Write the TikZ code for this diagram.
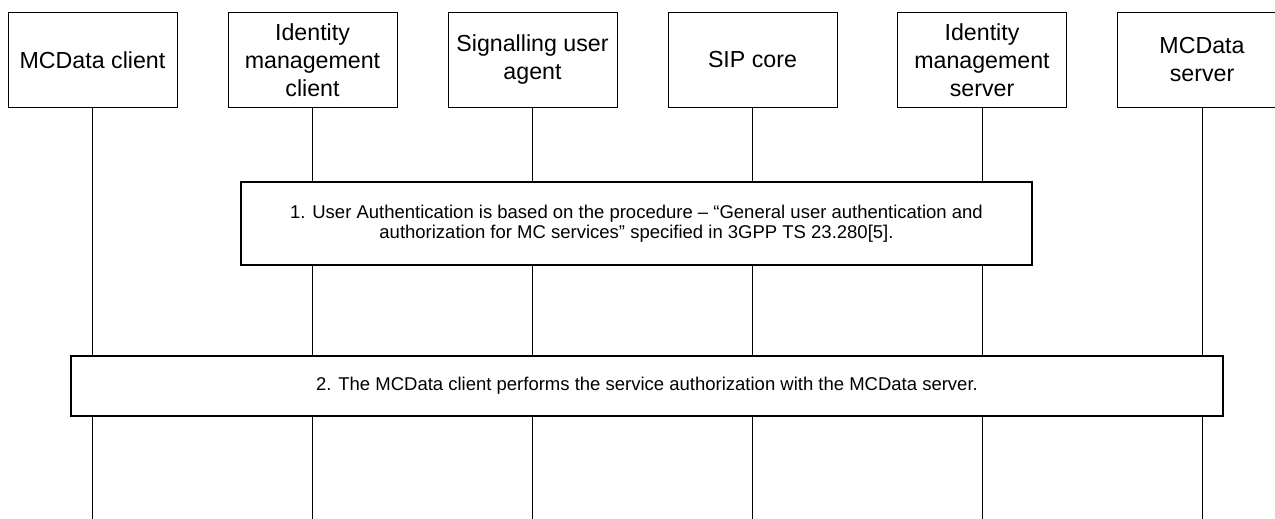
\documentclass[tikz,border=0pt]{standalone}
\usepackage{fontspec}
\setmainfont{Liberation Sans}
\usepackage{tikz}
\usetikzlibrary{positioning}

\tikzset{
  party/.style={draw, line width=0.5pt, inner sep=0pt, minimum width=84.5pt,
    minimum height=47.5pt, align=center, font=\fontsize{11.6}{14}\selectfont},
  stepbox/.style={draw, line width=0.6pt, fill=white, inner sep=0pt,
    align=center, font=\fontsize{9.25}{10}\selectfont},
  life/.style={line width=0.5pt}
}

\begin{document}
\begin{tikzpicture}[x=0.5pt, y=-0.5pt]
  \useasboundingbox (0,0) rectangle (1275,519);
  \node[party] (mcc) at (92.5,59.75) {MCData client};
  \node[party] (idmc) at (312.5,59.75) {Identity\\management\\client};
  \node[party] (sua) at (532.5,59.75) {Signalling user\\agent};
  \node[party] (sip) at (752.5,59.75) {SIP core};
  \node[party] (idms) at (982,59.75) {Identity\\management\\server};
  \node[party] (mcs) at (1202,59.75) {MCData\\server};
  \coordinate (bot) at (0,519);
  \foreach \p in {mcc,idmc,sua,sip,idms,mcs}
    \draw[life] (\p.south) -- (\p.south |- bot);
  \node[stepbox, minimum width=395.5pt, minimum height=41.5pt] (auth) at (636.5,223.5)
    {1. User Authentication is based on the procedure – “General user authentication and\\
     authorization for MC services” specified in 3GPP TS 23.280[5].};
  \node[stepbox, minimum width=576pt, minimum height=30pt] (svc) at (647,386)
    {2. The MCData client performs the service authorization with the MCData server.};
\end{tikzpicture}
\end{document}
